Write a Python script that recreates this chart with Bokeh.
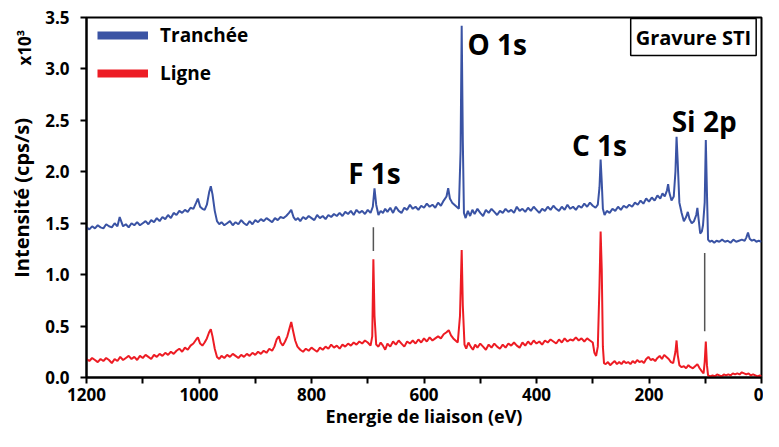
import math
from bokeh.plotting import figure
from bokeh.layouts import row
from bokeh.models import Range1d, FixedTicker, PrintfTickFormatter, Label, Legend, LegendItem
from bokeh.embed import file_html
from bokeh.resources import INLINE

# ---- data (binding energy eV, intensity x10^3 cps/s) ----
tr_energy = [1200,1195,1190,1185,1180,1175,1170,1165,1160,1155,1150,1145,1141,1135,1130,1125,1120,1115,1110,1105,
             1100,1095,1090,1085,1080,1075,1070,1065,1060,1055,1050,1045,1040,1035,1030,1025,1020,1015,1010,1005,
             1002,998,994,990,986,982,979,976,972,968,964,960,955,950,945,940,935,930,925,920,
             915,910,905,900,895,890,885,880,875,870,865,860,855,850,845,840,836,832,828,824,
             820,815,810,805,800,795,790,785,780,775,770,765,760,755,750,745,740,735,730,725,
             720,715,710,705,700,695,691,688,685,681,677,673,669,665,660,655,650,645,640,635,
             630,625,620,615,610,605,600,595,590,585,580,575,570,565,560,557,554,550,546,542,
             538,535,533,531,529,526,522,518,514,510,505,500,495,490,485,480,475,470,465,460,
             455,450,445,440,435,430,425,420,415,410,405,400,395,390,385,380,375,370,365,360,
             355,350,345,340,335,330,325,320,315,310,305,300,295,291,288,286,284,282,279,275,
             270,265,260,255,250,245,240,235,230,225,220,215,210,205,200,195,190,185,180,176,
             172,168,166,164,160,156,153,151,149,146,142,138,134,131,128,124,120,116,114,112,
             109,106,104,101,99,97,95,92,88,84,80,75,70,65,60,55,50,45,40,35,
             30,27,24,21,17,13,9,5,0]
tr_counts = [1.46,1.44,1.47,1.45,1.48,1.46,1.45,1.49,1.47,1.46,1.50,1.47,1.56,1.47,1.49,1.46,1.50,1.48,1.51,1.48,
             1.50,1.52,1.49,1.53,1.51,1.55,1.52,1.56,1.54,1.58,1.55,1.60,1.58,1.62,1.60,1.63,1.61,1.65,1.64,1.70,
             1.74,1.66,1.64,1.63,1.68,1.80,1.86,1.78,1.62,1.52,1.49,1.51,1.48,1.50,1.52,1.48,1.51,1.49,1.53,1.50,
             1.48,1.52,1.49,1.53,1.51,1.54,1.52,1.55,1.53,1.51,1.55,1.53,1.56,1.55,1.57,1.60,1.63,1.56,1.53,1.55,
             1.52,1.56,1.54,1.57,1.55,1.53,1.58,1.55,1.57,1.54,1.58,1.56,1.59,1.57,1.60,1.57,1.61,1.59,1.62,1.58,
             1.63,1.60,1.62,1.59,1.63,1.60,1.66,1.84,1.68,1.58,1.62,1.60,1.64,1.61,1.65,1.60,1.66,1.62,1.60,1.65,
             1.63,1.68,1.64,1.66,1.63,1.67,1.65,1.69,1.66,1.68,1.65,1.70,1.67,1.72,1.76,1.84,1.74,1.70,1.68,1.66,
             1.64,2.20,3.42,2.30,1.60,1.55,1.62,1.57,1.63,1.59,1.64,1.60,1.57,1.63,1.60,1.64,1.61,1.58,1.62,1.60,
             1.64,1.61,1.63,1.60,1.66,1.62,1.64,1.61,1.65,1.62,1.66,1.63,1.60,1.64,1.62,1.66,1.63,1.67,1.64,1.62,
             1.66,1.63,1.68,1.64,1.66,1.63,1.67,1.65,1.69,1.66,1.70,1.67,1.65,1.68,1.85,2.12,1.90,1.64,1.58,1.62,
             1.60,1.64,1.62,1.66,1.63,1.67,1.65,1.68,1.66,1.70,1.68,1.72,1.69,1.74,1.71,1.75,1.72,1.77,1.74,1.79,
             1.76,1.82,1.88,1.80,1.72,1.76,2.00,2.34,2.10,1.70,1.60,1.52,1.56,1.61,1.54,1.50,1.52,1.58,1.65,1.55,
             1.40,1.42,1.48,1.70,2.31,1.80,1.34,1.32,1.33,1.31,1.33,1.32,1.34,1.32,1.33,1.31,1.34,1.32,1.33,1.34,
             1.33,1.36,1.41,1.35,1.33,1.34,1.32,1.33,1.32]

li_energy = [1200,1195,1190,1185,1180,1175,1170,1165,1160,1155,1150,1145,1140,1135,1130,1125,1120,1115,1110,1105,
             1100,1095,1090,1085,1080,1075,1070,1065,1060,1055,1050,1045,1040,1035,1030,1025,1020,1015,1010,1005,
             1002,998,994,990,986,982,979,976,972,968,964,960,955,950,945,940,935,930,925,920,
             915,910,905,900,895,890,885,880,875,870,866,862,858,855,851,847,843,839,836,833,
             829,825,820,815,810,805,800,795,790,785,780,775,770,765,760,755,750,745,740,735,
             730,725,720,715,710,705,700,695,692,690,688,685,681,677,673,669,665,660,655,650,
             645,640,635,630,625,620,615,610,605,600,595,590,585,580,575,570,565,560,556,552,
             548,544,540,536,533,531,528,525,521,517,513,509,505,500,495,490,485,480,475,470,
             465,460,455,450,445,440,435,430,425,420,415,410,405,400,395,390,385,380,375,370,
             365,360,355,350,345,340,335,330,325,320,315,310,305,300,297,294,291,288,286,284,
             282,280,277,273,269,265,261,257,253,249,245,241,237,233,229,225,221,217,213,209,
             205,201,197,193,189,185,181,177,173,169,165,161,157,153,151,149,146,142,138,134,
             130,126,122,118,114,110,106,103,101,99,97,95,91,87,83,79,75,71,67,63,
             59,55,51,47,43,39,35,31,27,23,19,15,11,7,3,0]
li_counts = [0.18,0.16,0.19,0.17,0.15,0.18,0.16,0.19,0.17,0.14,0.18,0.16,0.20,0.17,0.19,0.21,0.18,0.20,0.17,0.21,
             0.19,0.22,0.20,0.18,0.22,0.20,0.23,0.21,0.24,0.22,0.25,0.23,0.26,0.28,0.25,0.29,0.27,0.31,0.33,0.37,
             0.39,0.33,0.31,0.34,0.38,0.44,0.47,0.40,0.28,0.20,0.18,0.21,0.19,0.22,0.20,0.23,0.21,0.19,0.22,0.20,
             0.23,0.21,0.24,0.22,0.25,0.23,0.26,0.24,0.28,0.26,0.30,0.37,0.40,0.34,0.31,0.35,0.40,0.48,0.54,0.46,
             0.36,0.30,0.27,0.25,0.28,0.26,0.29,0.27,0.25,0.29,0.27,0.30,0.28,0.32,0.29,0.31,0.28,0.32,0.30,0.33,
             0.31,0.34,0.32,0.35,0.33,0.36,0.34,0.31,0.40,1.15,0.60,0.32,0.30,0.34,0.31,0.27,0.33,0.30,0.35,0.32,
             0.36,0.33,0.30,0.35,0.33,0.36,0.33,0.37,0.34,0.38,0.35,0.39,0.36,0.38,0.40,0.38,0.42,0.44,0.46,0.41,
             0.38,0.36,0.34,0.60,1.24,0.70,0.32,0.28,0.34,0.30,0.27,0.32,0.29,0.33,0.30,0.27,0.32,0.29,0.33,0.30,
             0.28,0.32,0.29,0.33,0.31,0.34,0.31,0.29,0.34,0.31,0.35,0.32,0.36,0.33,0.35,0.32,0.36,0.34,0.37,0.35,
             0.33,0.37,0.34,0.38,0.35,0.37,0.36,0.39,0.36,0.38,0.35,0.38,0.36,0.34,0.24,0.21,0.30,0.90,1.42,1.05,
             0.30,0.14,0.13,0.15,0.12,0.14,0.16,0.13,0.15,0.13,0.16,0.14,0.15,0.13,0.16,0.14,0.17,0.15,0.16,0.14,
             0.18,0.20,0.17,0.18,0.16,0.19,0.21,0.18,0.22,0.20,0.18,0.15,0.14,0.25,0.36,0.22,0.12,0.10,0.11,0.09,
             0.12,0.10,0.09,0.11,0.13,0.09,0.06,0.04,0.15,0.35,0.12,0.02,0.01,0.02,0.01,0.03,0.02,0.01,0.03,0.02,
             0.03,0.02,0.04,0.03,0.04,0.03,0.05,0.04,0.03,0.04,0.02,0.03,0.02,0.01,0.02,0.01]

series_names = ["Tranchée", "Ligne"]
series_colors = ["#3A53A4", "#ED1C24"]

peak_labels = ["F 1s", "O 1s", "C 1s", "Si 2p"]
peak_label_x = [688, 470, 288, 102]
peak_label_y = [1.99, 3.24, 2.26, 2.49]   # text baseline

marker_x = [690, 101]
marker_y0 = [1.46, 1.21]
marker_y1 = [1.23, 0.45]

x_major = [0, 200, 400, 600, 800, 1000, 1200]
x_minor = [100, 300, 500, 700, 900, 1100]
y_major = [0.0, 0.5, 1.0, 1.5, 2.0, 2.5, 3.0, 3.5]

FONT = "Open Sans"
TOTAL_W, TOTAL_H = 763, 431
STRIP_W = 40

# ---- narrow strip holding the rotated y-axis title and the x10^3 multiplier ----
strip = figure(width=STRIP_W, height=TOTAL_H, output_backend="svg", toolbar_location=None,
               x_range=Range1d(0, STRIP_W), y_range=Range1d(TOTAL_H, 0),
               min_border=0, min_border_left=0, min_border_right=0, min_border_top=0, min_border_bottom=0)
strip.axis.visible = False
strip.grid.visible = False
strip.outline_line_color = None
strip.add_layout(Label(x=21, y=216, text="Intensité (cps/s)", text_font=FONT, text_font_style="bold",
                       text_font_size="20px", text_align="center", text_baseline="middle",
                       angle=math.pi / 2, text_color="black"))
strip.add_layout(Label(x=24, y=36, text="x10³", text_font=FONT, text_font_style="bold",
                       text_font_size="17px", text_align="center", text_baseline="middle",
                       angle=math.pi / 2, text_color="black"))

# ---- main spectrum chart ----
p = figure(width=TOTAL_W - STRIP_W, height=TOTAL_H, output_backend="svg", toolbar_location=None,
           x_range=Range1d(1200, 0), y_range=Range1d(0, 3.5),
           min_border_left=46, min_border_right=2, min_border_top=17, min_border_bottom=54)
p.grid.visible = False
p.outline_line_color = "black"
p.outline_line_width = 2
p.background_fill_color = "white"
p.border_fill_color = "white"

for ax in (p.xaxis[0], p.yaxis[0]):
    ax.axis_line_width = 2
    ax.axis_line_color = "black"
    ax.major_tick_line_width = 2
    ax.minor_tick_line_width = 2
    ax.major_tick_in = 0
    ax.major_tick_out = 6
    ax.major_label_text_font = FONT
    ax.major_label_text_font_style = "bold"
    ax.major_label_text_font_size = "17px"
    ax.major_label_text_color = "black"
    ax.axis_label_text_font = FONT
    ax.axis_label_text_font_style = "bold"
    ax.axis_label_text_color = "black"

p.xaxis.ticker = FixedTicker(ticks=x_major, minor_ticks=x_minor)
p.xaxis.minor_tick_in = 0
p.xaxis.minor_tick_out = 6
p.xaxis.axis_label = "Energie de liaison (eV)"
p.xaxis.axis_label_text_font_size = "18px"
p.xaxis.axis_label_standoff = 0
p.xaxis.major_label_standoff = 4

p.yaxis.ticker = FixedTicker(ticks=y_major, minor_ticks=[])
p.yaxis.formatter = PrintfTickFormatter(format="%.1f")
p.yaxis.major_label_standoff = 11

energies = [tr_energy, li_energy]
counts = [tr_counts, li_counts]
legend_items = []
for name, col, e, c in zip(series_names, series_colors, energies, counts):
    p.line(e, c, line_color=col, line_width=2)
    key = p.line(e, c, line_color=col, line_width=8, visible=False)
    legend_items.append(LegendItem(label=name, renderers=[key]))

legend = Legend(items=legend_items, location=(11, 291), border_line_color=None,
                background_fill_alpha=0, glyph_width=51, glyph_height=20, spacing=12,
                label_standoff=12, margin=0, padding=0, click_policy="none",
                inactive_fill_alpha=0,
                label_text_font=FONT, label_text_font_style="bold", label_text_font_size="19px",
                label_text_color="black")
p.add_layout(legend)

p.segment(x0=marker_x, y0=marker_y0, x1=marker_x, y1=marker_y1, line_color="#555555", line_width=1.5)

for t, x, y in zip(peak_labels, peak_label_x, peak_label_y):
    p.add_layout(Label(x=x, y=y, text=t, text_font=FONT, text_font_style="bold",
                       text_font_size="28px", text_align="center", text_baseline="alphabetic",
                       text_color="black"))

p.add_layout(Label(x=121, y=3.31, text="Gravure STI", text_font=FONT, text_font_style="bold",
                   text_font_size="20px", text_align="center", text_baseline="middle",
                   border_line_color="black", border_line_width=1.5, background_fill_color="white",
                   padding=5, text_color="black"))

layout = row(strip, p, spacing=0)
open("out.html", "w").write(file_html(layout, INLINE))
